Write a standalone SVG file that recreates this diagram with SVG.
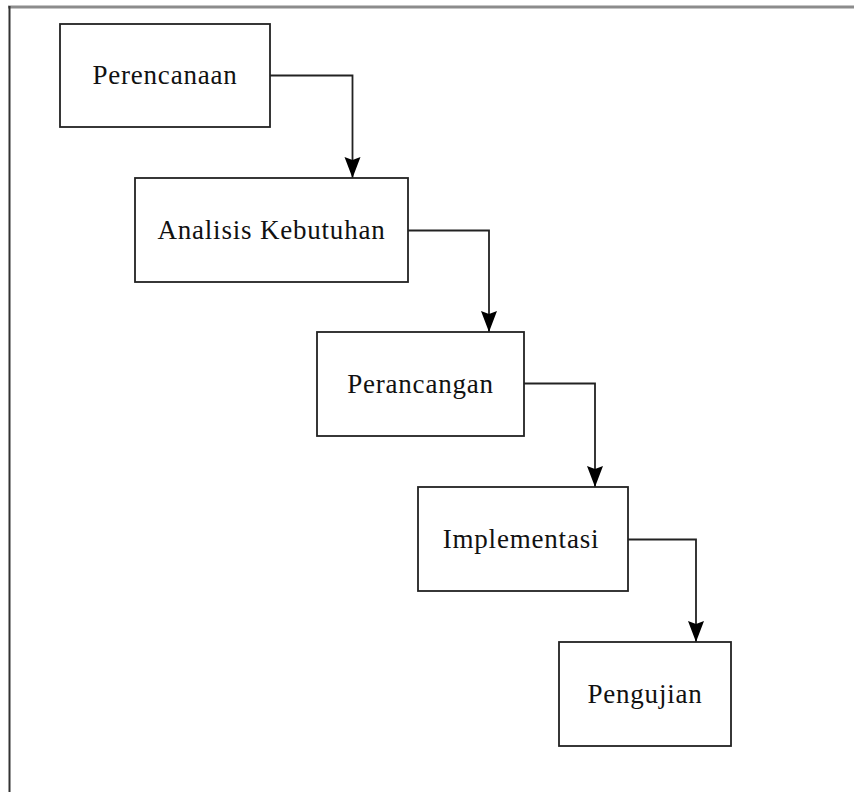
<svg xmlns="http://www.w3.org/2000/svg" width="854" height="792" viewBox="0 0 854 792">
  <style>
    .box { fill: #ffffff; stroke: #222222; stroke-width: 1.8; }
    .label { font-family: "Liberation Serif", "Times New Roman", serif; font-size: 27px; fill: #111111; text-anchor: middle; letter-spacing: 0.8px; }
    .conn { fill: none; stroke: #222222; stroke-width: 1.8; marker-end: url(#arrow); }
  </style>
  <defs>
    <marker id="arrow" markerUnits="userSpaceOnUse" markerWidth="24" markerHeight="18" viewBox="-1 -9 24 18" refX="21" refY="0" orient="auto">
      <path d="M0,-8 L21,0 L0,8 L3,0 Z" fill="#000000"/>
    </marker>
  </defs>

  <rect x="0" y="0" width="854" height="792" fill="#ffffff"/>

  <!-- outer frame -->
  <g id="frame">
    <line x1="8" y1="7" x2="854" y2="7" stroke="#8c8c8c" stroke-width="3"/>
    <line x1="9.5" y1="6" x2="9.5" y2="792" stroke="#333333" stroke-width="2"/>
  </g>

  <!-- connectors -->
  <g id="connectors">
    <path class="conn" d="M270,75.5 H352.5 V178"/>
    <path class="conn" d="M408,230.5 H489 V332"/>
    <path class="conn" d="M524,383.5 H595 V487"/>
    <path class="conn" d="M628,539.5 H696 V642"/>
  </g>

  <g id="perencanaan">
    <rect class="box" x="60" y="24" width="210" height="103"/>
    <text class="label" x="165" y="84">Perencanaan</text>
  </g>

  <g id="analisis-kebutuhan">
    <rect class="box" x="135" y="178" width="273" height="104"/>
    <text class="label" x="271.5" y="239">Analisis Kebutuhan</text>
  </g>

  <g id="perancangan">
    <rect class="box" x="317" y="332" width="207" height="104"/>
    <text class="label" x="420.5" y="393">Perancangan</text>
  </g>

  <g id="implementasi">
    <rect class="box" x="418" y="487" width="210" height="104"/>
    <text class="label" x="521" y="548">Implementasi</text>
  </g>

  <g id="pengujian">
    <rect class="box" x="559" y="642" width="172" height="104"/>
    <text class="label" x="645" y="703">Pengujian</text>
  </g>
</svg>
